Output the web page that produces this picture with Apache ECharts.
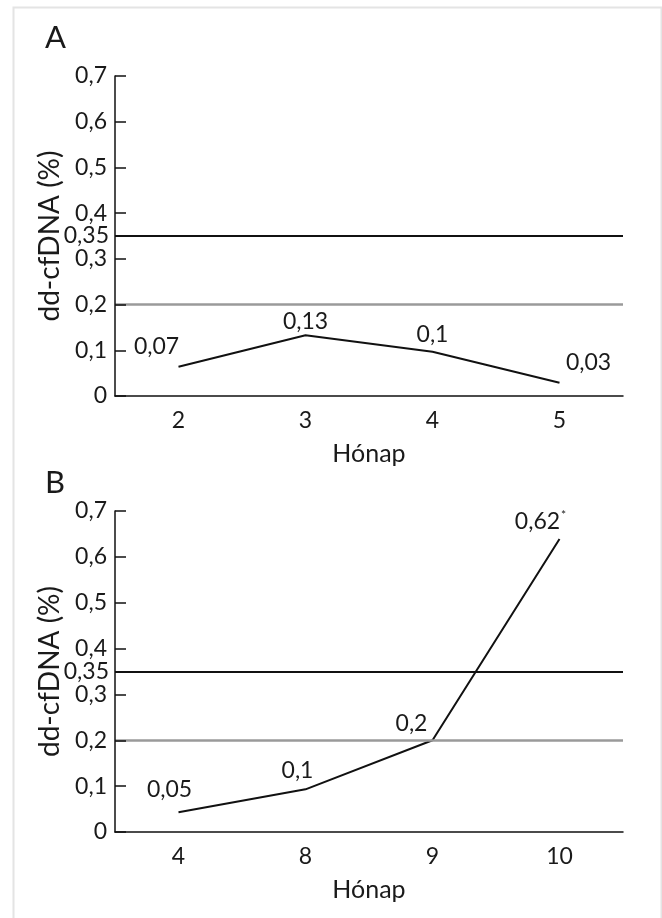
<!DOCTYPE html>
<html>
<head>
<meta charset="utf-8">
<script src="https://cdn.jsdelivr.net/npm/echarts@6/dist/echarts.min.js"></script>
<style>
html,body{margin:0;padding:0;background:#fff;}
#chart{width:662px;height:918px;}
</style>
</head>
<body>
<div id="chart"></div>
<script>
// ---- data ----
const monthsA = ['2', '3', '4', '5'];
const valuesA = [0.064, 0.133, 0.097, 0.029];
const labelsA = ['0,07', '0,13', '0,1', '0,03'];

const monthsB = ['4', '8', '9', '10'];
const valuesB = [0.043, 0.093, 0.2, 0.639];
const labelsB = ['0,05', '0,1', '0,2', '0,62*'];

const thresholdHigh = 0.35;
const thresholdLow = 0.2;
const thresholdHighLabel = '0,35';

const yName = 'dd-cfDNA (%)';
const xName = 'Hónap';
const panelNames = ['A', 'B'];

// ---- styling ----
const FONT = 'Lato';
const TXT = '#1a1a1a';
const offsetsA = [[-22, -3], [0, 3], [0, 0], [29, -3]];
const offsetsB = [[-9, -6], [-8, -2], [-21, 0], [-19, 0]];

function fmt(v) { return String(Math.round(v * 100) / 100).replace('.', ','); }

function buildData(values, labels, offsets) {
  return values.map((v, i) => {
    const txt = labels[i];
    const star = txt.endsWith('*');
    return {
      value: v,
      label: {
        offset: offsets[i],
        formatter: star ? txt.slice(0, -1) + '{sup|*}' : txt
      }
    };
  });
}

const grids = [
  { left: 115, right: 39, top: 76, height: 320 },
  { left: 115, right: 39, top: 511, height: 321 }
];

function xAxis(idx, cats) {
  return {
    type: 'category', gridIndex: idx, data: cats, boundaryGap: true,
    name: xName, nameLocation: 'middle', nameGap: 45,
    nameTextStyle: { fontFamily: FONT, fontSize: 25, color: TXT, verticalAlign: 'top' },
    axisLine: { lineStyle: { color: '#111', width: 1.5 } },
    axisTick: { inside: true, length: 9, alignWithLabel: true, lineStyle: { color: '#111', width: 1.5 } },
    axisLabel: { fontFamily: FONT, fontSize: 23, color: TXT, margin: 13 },
    splitLine: { show: false }
  };
}
function yAxis(idx) {
  return {
    type: 'value', gridIndex: idx, min: 0, max: 0.7, interval: 0.1, z: 5,
    name: yName, nameLocation: 'middle', nameGap: 48, nameRotate: 90,
    nameTextStyle: { fontFamily: FONT, fontSize: 28, color: TXT },
    axisLine: { show: true, lineStyle: { color: '#111', width: 1.5 } },
    axisTick: { show: true, inside: true, length: 11, lineStyle: { color: '#111', width: 1.5 } },
    axisLabel: { fontFamily: FONT, fontSize: 23, color: TXT, margin: 8, formatter: fmt },
    splitLine: { show: false }
  };
}
function series(idx, values, labels, offsets) {
  return {
    type: 'line', xAxisIndex: idx, yAxisIndex: idx, z: 2,
    data: buildData(values, labels, offsets),
    symbol: 'circle', symbolSize: 1,
    itemStyle: { color: 'rgba(0,0,0,0)' },
    lineStyle: { color: '#111', width: 2 },
    label: {
      show: true, position: 'top', distance: 5,
      fontFamily: FONT, fontSize: 23, color: TXT,
      rich: { sup: { fontFamily: FONT, fontSize: 12, color: TXT, verticalAlign: 'top', padding: [0, 0, 12, 1] } }
    },
    silent: true, animation: false,
    markLine: {
      silent: true, symbol: 'none', animation: false,
      data: [
        { yAxis: thresholdHigh, lineStyle: { color: '#111', width: 2, type: 'solid' },
          label: { show: true, position: 'start', distance: 6, formatter: thresholdHighLabel,
                   fontFamily: FONT, fontSize: 23, color: TXT } },
        { yAxis: thresholdLow, lineStyle: { color: '#9a9a9a', width: 2.5, type: 'solid' },
          label: { show: false } }
      ]
    }
  };
}

const chart = echarts.init(document.getElementById('chart'), null, { renderer: 'canvas' });
chart.setOption({
  animation: false,
  backgroundColor: '#fff',
  grid: grids,
  xAxis: [xAxis(0, monthsA), xAxis(1, monthsB)],
  yAxis: [yAxis(0), yAxis(1)],
  series: [series(0, valuesA, labelsA, offsetsA), series(1, valuesB, labelsB, offsetsB)],
  graphic: [
    { type: 'rect', left: 11, top: 5, shape: { width: 648, height: 930 },
      style: { fill: 'none', stroke: '#e4e4e4', lineWidth: 2 }, silent: true },
    { type: 'text', left: 45, top: 22, style: { text: panelNames[0], fontFamily: FONT, fontSize: 31, fill: TXT } },
    { type: 'text', left: 45, top: 467, style: { text: panelNames[1], fontFamily: FONT, fontSize: 31, fill: TXT } }
  ]
});
</script>
</body>
</html>
